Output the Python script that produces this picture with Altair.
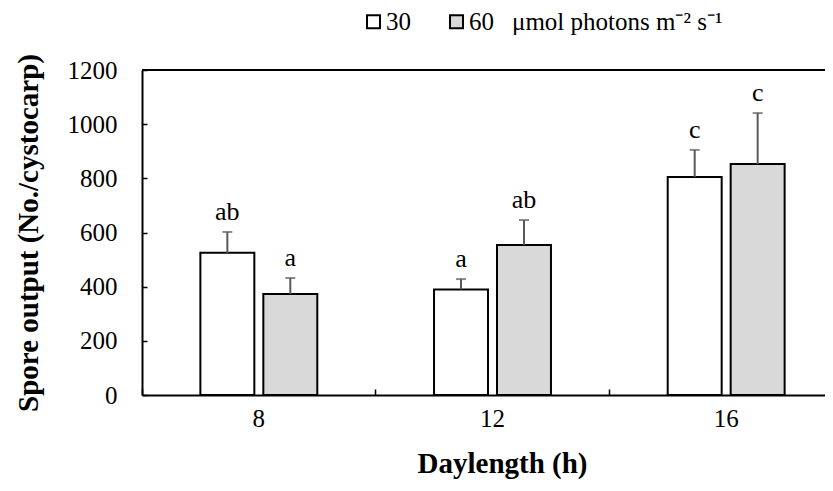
import altair as alt
import pandas as pd

days = ["8", "12", "16"]
light = ["30", "60"]
means_30 = [525, 390, 805]
means_60 = [373, 554, 853]
err_30 = [77, 38, 100]
err_60 = [59, 92, 188]
letters_30 = ["ab", "a", "c"]
letters_60 = ["a", "ab", "c"]
y_ticks = [0, 200, 400, 600, 800, 1000, 1200]

rows = []
for i, d in enumerate(days):
    rows.append({"day": d, "light": "30", "mean": means_30[i], "err": err_30[i], "letter": letters_30[i]})
    rows.append({"day": d, "light": "60", "mean": means_60[i], "err": err_60[i], "letter": letters_60[i]})
df = pd.DataFrame(rows)

FONT = "Liberation Serif"
W, H = 683, 325

xscale = alt.Scale(domain=days, range=[0, 701], paddingInner=0, paddingOuter=0)
xoff = alt.Scale(domain=light, paddingInner=0.143, paddingOuter=0.927)
yscale = alt.Scale(domain=[0, 1200], nice=False)

base = alt.Chart(df).transform_calculate(top="datum.mean + datum.err")

bars = base.mark_bar(stroke="black", strokeWidth=2).encode(
    x=alt.X("day:N", scale=xscale, sort=days,
            axis=alt.Axis(orient="bottom", title="Daylength (h)", labelAngle=0,
                          ticks=False, tickSize=0, labelPadding=11, labelFontSize=25,
                          labelFont=FONT, labelColor="black", titleFont=FONT,
                          titleFontSize=29, titleFontWeight="bold", titleColor="black",
                          titlePadding=18, domainColor="black", domainWidth=2,
                          titleX=360)),
    xOffset=alt.XOffset("light:N", scale=xoff, sort=light),
    y=alt.Y("mean:Q", scale=yscale,
            axis=alt.Axis(orient="left", values=y_ticks, format="d",
                          title="Spore output (No./cystocarp)",
                          ticks=False, tickSize=0, labelPadding=25, labelFontSize=25,
                          labelFont=FONT, labelColor="black", titleFont=FONT,
                          titleFontSize=29, titleFontWeight="bold", titleColor="black",
                          titlePadding=24, domainColor="black", domainWidth=2, grid=False)),
    fill=alt.Fill("light:N", scale=alt.Scale(domain=light, range=["white", "#d9d9d9"]),
                  legend=alt.Legend(orient="none", legendX=219, legendY=-61,
                                    direction="horizontal", title="μmol photons m⁻² s⁻¹",
                                    titleOrient="right", titleFont=FONT, titleFontSize=25,
                                    titleFontWeight="normal", titleColor="black",
                                    titleLimit=400, titlePadding=18,
                                    labelFont=FONT, labelFontSize=25,
                                    labelColor="black", symbolType="square", symbolSize=169,
                                    symbolStrokeColor="black", symbolStrokeWidth=2,
                                    columnPadding=33, labelOffset=0)),
)

err_rule = base.mark_rule(color="#595959", strokeWidth=2).encode(
    x=alt.X("day:N", scale=xscale, sort=days,
            axis=alt.Axis(orient="top", offset=-H, bandPosition=0, labels=False,
                          domain=False, ticks=True, tickSize=6, tickWidth=1.5,
                          tickColor="black", title=None)),
    xOffset=alt.XOffset("light:N", scale=xoff, sort=light),
    y=alt.Y("mean:Q", scale=yscale,
            axis=alt.Axis(orient="right", offset=-W, values=y_ticks, labels=False,
                          domain=False, ticks=True, tickSize=5, tickWidth=1.5,
                          tickColor="black", title=None, grid=False)),
    y2="top:Q",
)

err_cap = base.mark_tick(color="#595959", thickness=2, size=10, orient="horizontal").encode(
    x=alt.X("day:N", scale=xscale, sort=days, axis=None),
    xOffset=alt.XOffset("light:N", scale=xoff, sort=light),
    y=alt.Y("top:Q", scale=yscale, axis=None),
)

labels = base.mark_text(font=FONT, fontSize=26, color="black", baseline="alphabetic", dy=-12).encode(
    x=alt.X("day:N", scale=xscale, sort=days, axis=None),
    xOffset=alt.XOffset("light:N", scale=xoff, sort=light),
    y=alt.Y("top:Q", scale=yscale, axis=None),
    text="letter:N",
)

top_line = alt.Chart(pd.DataFrame({"v": [1200]})).mark_rule(color="black", strokeWidth=2).encode(
    y=alt.Y("v:Q", scale=yscale, axis=None)
)

chart = alt.layer(bars, err_rule, err_cap, labels, top_line).resolve_scale(
    x="shared", y="shared"
).resolve_axis(x="independent", y="independent").properties(
    width=W, height=H,
    autosize=alt.AutoSizeParams(type="none"),
    padding={"left": 134, "top": 62, "right": 0, "bottom": 90},
).configure_view(stroke=None)

chart.save("out.html", embed_options={"renderer": "svg", "actions": False})
